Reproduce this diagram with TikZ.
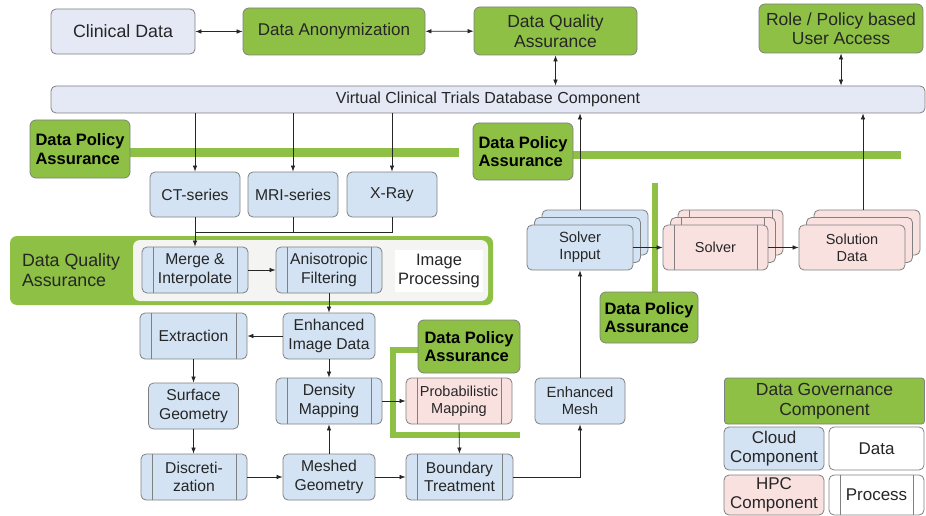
\documentclass[tikz,border=0pt]{standalone}
\usepackage{fontspec}
\setmainfont{Liberation Sans}
\usetikzlibrary{arrows.meta,calc}

\definecolor{govgreen}{HTML}{8DC044}
\definecolor{cloudblue}{HTML}{D3E3F3}
\definecolor{paleblue}{HTML}{E4E9F5}
\definecolor{hpcpink}{HTML}{F9E1E0}
\definecolor{edgegray}{HTML}{808080}
\definecolor{panelgray}{HTML}{F4F4F2}
\definecolor{inkgray}{HTML}{262626}

\newcommand\fsz[2]{\fontsize{#1}{#2}\selectfont}

\tikzset{
  box/.style={draw=edgegray, line width=0.8pt, rounded corners=5pt, align=center,
    inner sep=0pt, text=inkgray, font=\fsz{15.7}{18.5}},
  cloudbox/.style={box, fill=cloudblue},
  hpcbox/.style={box, fill=hpcpink},
  govbox/.style={box, fill=govgreen, rounded corners=6pt, font=\fsz{17.5}{19.5}},
  policybox/.style={govbox, align=left, text=black, font=\bfseries\fsz{16.5}{18.5}},
  legendtext/.style={font=\fsz{17}{19.5}},
  bars/.style={path picture={
      \draw[edgegray, line width=0.8pt]
        ([xshift=11pt]path picture bounding box.north west) --
        ([xshift=11pt]path picture bounding box.south west);
      \draw[edgegray, line width=0.8pt]
        ([xshift=-11pt]path picture bounding box.north east) --
        ([xshift=-11pt]path picture bounding box.south east);}},
  link/.style={draw=inkgray, line width=0.7pt},
  arr/.style={link, -{Latex[length=6pt,width=4.5pt]}},
  dbl/.style={link, {Latex[length=6pt,width=4.5pt]}-{Latex[length=6pt,width=4.5pt]}},
  greenband/.style={fill=govgreen},
}

\begin{document}
\begin{tikzpicture}[x=1pt, y=-1pt]
\useasboundingbox (0,0) rectangle (926,516);

% ---------- top row ----------
\node[box, fill=paleblue, minimum width=144, minimum height=45, font=\fsz{17.8}{20}]
  (clin) at (123,31.5) {Clinical Data};
\node[govbox, minimum width=182, minimum height=47, font=\fsz{17}{19}]
  (anon) at (334,31.5) {Data Anonymization};
\node[govbox, minimum width=163, minimum height=48]
  (dqa) at (555.5,31) {Data Quality\\Assurance};
\node[govbox, minimum width=164, minimum height=49]
  (role) at (841,28.5) {Role / Policy based\\User Access};

\node[box, fill=paleblue, minimum width=874, minimum height=27, font=\fsz{16}{18}]
  (db) at (488,99.5) {Virtual Clinical Trials Database Component};

% ---------- policy bands ----------
\fill[greenband] (120,148) rectangle (459,157);
\fill[greenband] (565,151) rectangle (901,159);
\fill[greenband] (652,183) rectangle (658,300);
\draw[govgreen, line width=6pt, line join=miter] (425,350) -- (393,350) -- (393,434.5) -- (520,434.5);

\node[policybox, minimum width=100, minimum height=58] (dpa1) at (80,149) {Data Policy\\Assurance};
\node[policybox, minimum width=100, minimum height=57] (dpa2) at (523,151.5) {Data Policy\\Assurance};
\node[policybox, minimum width=98, minimum height=51] (dpa4) at (649,317.5) {Data Policy\\Assurance};
\node[policybox, minimum width=102, minimum height=53] (dpa3) at (469,346.5) {Data Policy\\Assurance};

% ---------- imaging sources ----------
\node[cloudbox, minimum width=90, minimum height=45] (ct) at (195,194.5) {CT-series};
\node[cloudbox, minimum width=90, minimum height=45] (mri) at (293,194.5) {MRI-series};
\node[cloudbox, minimum width=90, minimum height=45] (xray) at (392,194.5) {X-Ray};

% ---------- image processing panel ----------
\fill[govgreen, rounded corners=7pt] (10,236) rectangle (493,305);
\fill[panelgray, rounded corners=7pt] (133,240) rectangle (488,301);
\node[align=left, text=inkgray, font=\fsz{17.8}{20.5}, inner sep=0pt] (dqa2) at (71,270) {Data Quality\\Assurance};
\node[fill=white, minimum width=88, minimum height=42, align=center, inner sep=0pt,
  text=inkgray, font=\fsz{16.5}{19}] (imgproc) at (439,271) {Image\\Processing};

\node[cloudbox, bars, minimum width=106, minimum height=46] (merge) at (195,270) {Merge \&\\Interpolate};
\node[cloudbox, bars, minimum width=106, minimum height=46] (aniso) at (329,270) {Anisotropic\\Filtering};

% ---------- geometry pipeline ----------
\node[cloudbox, minimum width=92, minimum height=46] (eid) at (329,336) {Enhanced\\Image Data};
\node[cloudbox, bars, minimum width=107, minimum height=46] (extr) at (193.5,336) {Extraction};
\node[cloudbox, minimum width=90, minimum height=46] (surf) at (193.5,406) {Surface\\Geometry};
\node[cloudbox, bars, minimum width=106, minimum height=46] (dens) at (329,401) {Density\\Mapping};
\node[hpcbox, bars, minimum width=106, minimum height=46, font=\fsz{14.5}{17}] (prob) at (459,401) {Probabilistic\\Mapping};
\node[cloudbox, bars, minimum width=106, minimum height=46] (disc) at (194,477) {Discreti-\\zation};
\node[cloudbox, minimum width=92, minimum height=46] (mesh) at (329,477) {Meshed\\Geometry};
\node[cloudbox, bars, minimum width=107, minimum height=46] (bound) at (459.5,477) {Boundary\\Treatment};
\node[cloudbox, minimum width=90, minimum height=46, font=\fsz{14.8}{17}] (emesh) at (580,401) {Enhanced\\Mesh};

% ---------- solver stacks ----------
\node[cloudbox, minimum width=106, minimum height=45] (si3) at (595,232.5) {};
\node[cloudbox, minimum width=106, minimum height=45] (si2) at (587.5,240) {};
\node[cloudbox, minimum width=106, minimum height=45, font=\fsz{14.8}{17}] (si1) at (580,247.5) {Solver\\Inpput};

\node[hpcbox, bars, minimum width=105, minimum height=45] (sol3) at (730.5,232.5) {};
\node[hpcbox, bars, minimum width=105, minimum height=45] (sol2) at (723,240) {};
\node[hpcbox, bars, minimum width=105, minimum height=45, font=\fsz{14.5}{17}] (sol1) at (715.5,247.5) {Solver};

\node[hpcbox, minimum width=106, minimum height=45] (sd3) at (867,232.5) {};
\node[hpcbox, minimum width=106, minimum height=45] (sd2) at (859.5,240) {};
\node[hpcbox, minimum width=106, minimum height=45, font=\fsz{14.5}{17}] (sd1) at (852,247.5) {Solution\\Data};

% ---------- legend ----------
\node[govbox, rounded corners=3pt, minimum width=200, minimum height=46, font=\fsz{17.5}{20}]
  (dgc) at (824.5,401) {Data Governance\\Component};
\node[cloudbox, legendtext, minimum width=100, minimum height=43] (cloud) at (774,448.5) {Cloud\\Component};
\node[box, legendtext, fill=white, minimum width=95, minimum height=43] (datal) at (876.5,448.5) {Data};
\node[hpcbox, legendtext, minimum width=100, minimum height=40] (hpc) at (774,495) {HPC\\Component};
\node[box, legendtext, bars, fill=white, minimum width=95, minimum height=40] (procl) at (876.5,495) {Process};

% ---------- connectors ----------
\draw[dbl] (clin) -- (anon);
\draw[dbl] (anon) -- (dqa);
\draw[dbl] (dqa.south) -- (dqa.south |- db.north);
\draw[dbl] (role.south) -- (role.south |- db.north);

\draw[arr] (ct.north |- db.south) -- (ct.north);
\draw[arr] (mri.north |- db.south) -- (mri.north);
\draw[arr] (xray.north |- db.south) -- (xray.north);

\coordinate (mergeJ) at ($(ct.south)!0.5!(merge.north)$);
\draw[arr] (ct.south) -- (merge.north);
\draw[link] (xray.south) |- (mergeJ);
\draw[link] (mri.south) -- (mri.south |- mergeJ);

\draw[arr] (merge) -- (aniso);
\draw[arr] (aniso.south) -- (eid.north);
\draw[arr] (eid) -- (extr);
\draw[arr] (extr.south) -- (surf.north);
\draw[arr] (surf.south) -- (surf.south |- disc.north);
\draw[arr] (eid.south) -- (dens.north);
\draw[arr] (disc) -- (mesh);
\draw[arr] (mesh) -- (bound);
\draw[arr] (mesh.north) -- (dens.south);
\draw[arr] (dens) -- (prob);
\draw[arr] (prob.south) -- (bound.north);
\draw[arr] (bound.east) -| (emesh.south);
\draw[arr] (emesh.north) -- (si1.south);

\draw[arr] (si1.east) -- (sol1.west);
\draw[arr] (sol1.east) -- (sd1.west);
\draw[arr] (si1.north |- si3.north) -- (si1.north |- db.south);
\draw[arr] ([xshift=-4pt]sd3.north) -- ([xshift=-4pt]sd3.north |- db.south);
\end{tikzpicture}
\end{document}
